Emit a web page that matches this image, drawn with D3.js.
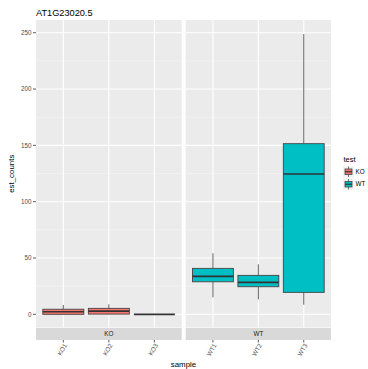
<!DOCTYPE html>
<html>
<head>
<meta charset="utf-8">
<script src="https://cdn.jsdelivr.net/npm/d3@7"></script>
<style>
  html, body { margin: 0; padding: 0; background: #fff; }
  text { font-family: "Liberation Sans", Arial, sans-serif; }
</style>
</head>
<body>
<svg id="chart" width="368" height="369"></svg>
<script>
// Box statistics per sample: lower whisker, Q1, median, Q3, upper whisker
const samples = ["KO1", "KO2", "KO3", "WT1", "WT2", "WT3"];
const groups  = ["KO", "KO", "KO", "WT", "WT", "WT"];
const lowerW  = [0, 0, 0, 15.1, 13.3, 8.5];
const q1      = [0, 0.2, 0, 28.9, 24.5, 19.5];
const median  = [2.3, 2.9, 0, 33.7, 28.4, 124.6];
const q3      = [4.5, 5.3, 0, 40.8, 34.6, 151.5];
const upperW  = [8.3, 8.9, 0, 54.2, 44.4, 248.8];
const facets  = ["KO", "WT"];
const yTicks  = [0, 50, 100, 150, 200, 250];
const yMinor  = [25, 75, 125, 175, 225];
const fills   = { KO: "#F8766D", WT: "#00BFC4" };

const rows = samples.map((s, i) => ({
  sample: s, group: groups[i],
  lo: lowerW[i], q1: q1[i], med: median[i], q3: q3[i], hi: upperW[i]
}));

const svg = d3.select("#chart");

const panelTop = 20, panelBottom = 327.5;
const panels = { KO: [36, 181.7], WT: [185.7, 331] };

// Shared y scale, padded 5% beyond the data range
const y = d3.scaleLinear().domain([-11.7, 261.3]).range([panelBottom, panelTop]);

// Title
svg.append("text").attr("x", 36).attr("y", 16)
  .attr("font-size", 9.2).attr("fill", "#000").text("AT1G23020.5");

facets.forEach(f => {
  const [x0, x1] = panels[f];
  const cats = samples.filter((s, i) => groups[i] === f);
  // Discrete positions with 0.6 category units of padding on each side
  const x = d3.scalePoint().domain(cats)
    .range([x0, x1]).padding(0.6);
  const unit = x.step();
  const bw = unit * 0.9;

  const g = svg.append("g");
  g.append("rect").attr("x", x0).attr("y", panelTop)
    .attr("width", x1 - x0).attr("height", panelBottom - panelTop).attr("fill", "#EBEBEB");

  // minor gridlines
  g.selectAll(".minor").data(yMinor).join("line")
    .attr("x1", x0).attr("x2", x1)
    .attr("y1", d => y(d)).attr("y2", d => y(d))
    .attr("stroke", "#F5F5F5").attr("stroke-width", 0.6);
  // major gridlines
  g.selectAll(".major").data(yTicks).join("line")
    .attr("x1", x0).attr("x2", x1)
    .attr("y1", d => y(d)).attr("y2", d => y(d))
    .attr("stroke", "#FFFFFF").attr("stroke-width", 1.1);
  g.selectAll(".vmajor").data(cats).join("line")
    .attr("x1", d => x(d)).attr("x2", d => x(d))
    .attr("y1", panelTop).attr("y2", panelBottom)
    .attr("stroke", "#FFFFFF").attr("stroke-width", 1.1);

  const data = rows.filter(r => r.group === f);
  const box = g.selectAll(".box").data(data).join("g");
  // whiskers
  box.append("line")
    .attr("x1", d => x(d.sample)).attr("x2", d => x(d.sample))
    .attr("y1", d => y(d.hi)).attr("y2", d => y(d.q3))
    .attr("stroke", "#555").attr("stroke-width", 0.9);
  box.append("line")
    .attr("x1", d => x(d.sample)).attr("x2", d => x(d.sample))
    .attr("y1", d => y(d.q1)).attr("y2", d => y(d.lo))
    .attr("stroke", "#555").attr("stroke-width", 0.9);
  // boxes
  box.append("rect")
    .attr("x", d => x(d.sample) - bw / 2).attr("width", bw)
    .attr("y", d => y(d.q3)).attr("height", d => Math.max(0, y(d.q1) - y(d.q3)))
    .attr("fill", d => fills[d.group]).attr("stroke", "#444").attr("stroke-width", 0.9);
  // medians
  box.append("line")
    .attr("x1", d => x(d.sample) - bw / 2).attr("x2", d => x(d.sample) + bw / 2)
    .attr("y1", d => y(d.med)).attr("y2", d => y(d.med))
    .attr("stroke", "#333").attr("stroke-width", 1.7);

  // facet strip
  svg.append("rect").attr("x", x0).attr("y", 328).attr("width", x1 - x0).attr("height", 12)
    .attr("fill", "#D9D9D9");
  svg.append("text").attr("x", (x0 + x1) / 2).attr("y", 336.3)
    .attr("text-anchor", "middle").attr("font-size", 6.3).attr("fill", "#1A1A1A").text(f);

  // x axis ticks and rotated labels
  const ax = svg.append("g");
  ax.selectAll("line").data(cats).join("line")
    .attr("x1", d => x(d)).attr("x2", d => x(d))
    .attr("y1", 340).attr("y2", 342.5)
    .attr("stroke", "#333").attr("stroke-width", 0.8);
  ax.selectAll("text").data(cats).join("text")
    .attr("transform", d => `translate(${x(d) + 2},${344}) rotate(-60)`)
    .attr("text-anchor", "end").attr("dy", "0.35em")
    .attr("font-size", 6.3).attr("fill", "#4D4D4D").text(d => d);
});

// y axis
const yAxis = svg.append("g");
yAxis.selectAll("line").data(yTicks).join("line")
  .attr("x1", 33).attr("x2", 36).attr("y1", d => y(d)).attr("y2", d => y(d))
  .attr("stroke", "#333").attr("stroke-width", 0.8);
yAxis.selectAll("text").data(yTicks).join("text")
  .attr("x", 31.5).attr("y", d => y(d)).attr("dy", "0.35em")
  .attr("text-anchor", "end").attr("font-size", 6.3).attr("fill", "#4D4D4D")
  .text(d => d);

// axis titles
svg.append("text").attr("x", 183.5).attr("y", 366.5).attr("text-anchor", "middle")
  .attr("font-size", 7.9).attr("fill", "#000").text("sample");
svg.append("text").attr("transform", `translate(14,${(panelTop + panelBottom) / 2}) rotate(-90)`)
  .attr("text-anchor", "middle").attr("font-size", 7.9).attr("fill", "#000").text("est_counts");

// legend
const lg = svg.append("g");
lg.append("text").attr("x", 343.5).attr("y", 162).attr("font-size", 7.5).attr("fill", "#000").text("test");
facets.forEach((f, i) => {
  const ky = 166 + i * 12.5;
  lg.append("rect").attr("x", 343).attr("y", ky).attr("width", 11).attr("height", 11.5).attr("fill", "#F2F2F2");
  lg.append("line").attr("x1", 348.5).attr("x2", 348.5).attr("y1", ky + 0.5).attr("y2", ky + 11)
    .attr("stroke", "#555").attr("stroke-width", 0.8);
  lg.append("rect").attr("x", 345).attr("y", ky + 3).attr("width", 7).attr("height", 5.5)
    .attr("fill", fills[f]).attr("stroke", "#444").attr("stroke-width", 0.8);
  lg.append("line").attr("x1", 345).attr("x2", 352).attr("y1", ky + 5.75).attr("y2", ky + 5.75)
    .attr("stroke", "#333").attr("stroke-width", 1.2);
  lg.append("text").attr("x", 355.5).attr("y", ky + 5.75).attr("dy", "0.35em")
    .attr("font-size", 6.3).attr("fill", "#000").text(f);
});
</script>
</body>
</html>
